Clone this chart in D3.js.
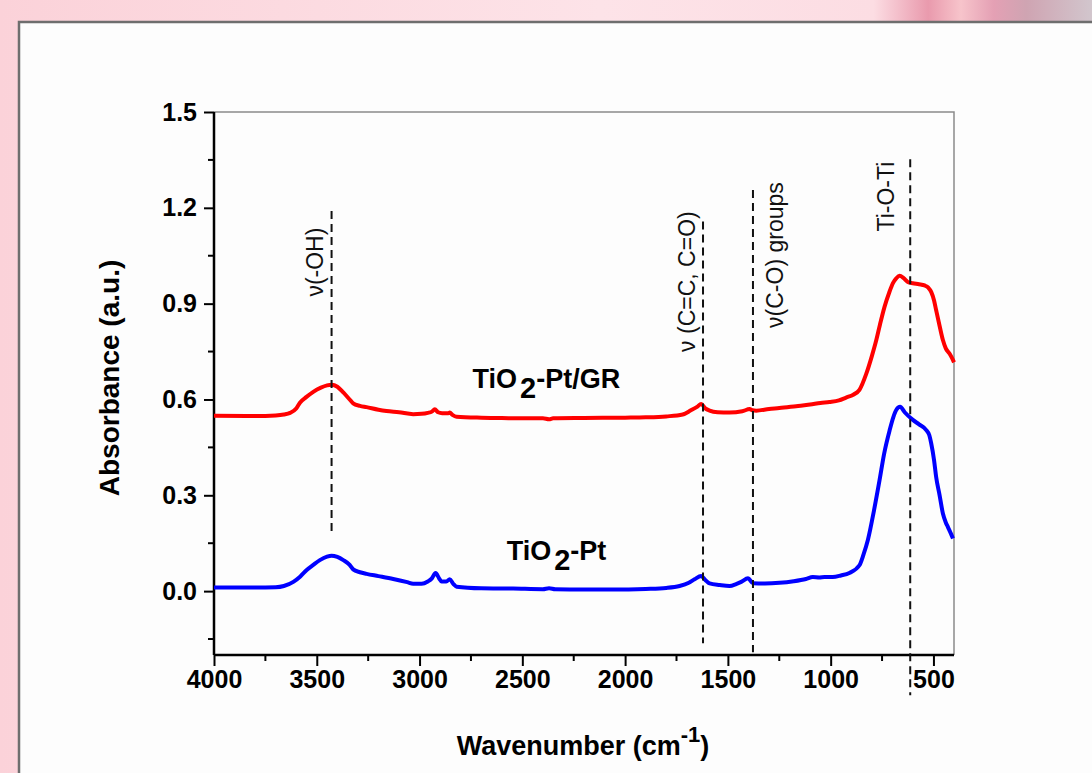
<!DOCTYPE html>
<html lang="en">
<head>
<meta charset="utf-8">
<title>FTIR spectra</title>
<style>
  body { margin: 0; overflow: hidden; }
  svg { display: block; font-family: "Liberation Sans", Arial, sans-serif; }
</style>
</head>
<body>
<div id="plot"></div>
<script src="https://d3js.org/d3.v7.min.js"></script>
<script>
// spectrum: wavenumber (cm-1) -> absorbance
var wnGR = [4000,3800,3700,3660,3630,3600,3582,3550,3517,3480,3450,3428,3400,3371,3340,3323,3290,3258,3200,3161,3100,3031,2990,2960,2940,2926,2910,2890,2860,2853,2840,2820,2700,2600,2500,2400,2370,2350,2200,2000,1900,1800,1720,1680,1650,1630,1610,1589,1550,1492,1430,1394,1380,1362,1300,1250,1168,1100,1050,1006,960,925,890,860,827,800,778,760,738,715,697,680,665,645,625,600,570,543,525,511,497,487,470,454,440,422,410,400];
var absGR = [0.549,0.548,0.550,0.553,0.558,0.572,0.590,0.608,0.624,0.637,0.644,0.646,0.640,0.622,0.600,0.588,0.580,0.576,0.568,0.564,0.560,0.554,0.555,0.558,0.562,0.569,0.560,0.557,0.557,0.559,0.552,0.546,0.543,0.542,0.541,0.541,0.538,0.541,0.542,0.543,0.544,0.547,0.553,0.566,0.577,0.586,0.572,0.565,0.560,0.559,0.563,0.570,0.566,0.565,0.570,0.573,0.579,0.584,0.589,0.592,0.597,0.606,0.615,0.630,0.680,0.735,0.786,0.835,0.890,0.935,0.964,0.980,0.987,0.980,0.968,0.964,0.961,0.957,0.950,0.937,0.910,0.880,0.830,0.786,0.760,0.744,0.730,0.716];

var wnPt = [4000,3800,3700,3660,3614,3580,3549,3517,3485,3450,3428,3400,3371,3340,3323,3290,3258,3200,3128,3060,3031,2990,2960,2940,2922,2905,2893,2870,2853,2835,2820,2700,2545,2400,2370,2340,2200,2059,1900,1800,1735,1690,1662,1630,1610,1589,1540,1492,1460,1435,1402,1378,1320,1249,1180,1120,1087,1055,1030,990,950,909,860,840,819,790,762,740,713,695,681,662,640,600,570,535,520,511,497,487,470,454,440,430,415,405];
var absPt = [0.011,0.011,0.012,0.016,0.029,0.046,0.066,0.082,0.097,0.108,0.111,0.107,0.097,0.082,0.068,0.059,0.054,0.047,0.038,0.028,0.023,0.023,0.030,0.040,0.057,0.040,0.030,0.030,0.037,0.022,0.014,0.009,0.008,0.006,0.009,0.006,0.005,0.005,0.007,0.010,0.016,0.026,0.037,0.047,0.035,0.024,0.019,0.016,0.022,0.029,0.040,0.025,0.024,0.026,0.031,0.038,0.044,0.043,0.044,0.044,0.049,0.057,0.081,0.115,0.160,0.250,0.348,0.430,0.504,0.545,0.567,0.577,0.560,0.536,0.522,0.504,0.488,0.463,0.410,0.358,0.300,0.243,0.215,0.201,0.180,0.165];

var xTicks = [4000,3500,3000,2500,2000,1500,1000,500];
var xMinor = [3750,3250,2750,2250,1750,1250,750];
var yTicks = [0.0,0.3,0.6,0.9,1.2,1.5];
var yMinor = [-0.15,0.15,0.45,0.75,1.05,1.35];

// band assignments: dashed line position, its ends, label anchor
var bandText = ["\u03bd(-OH)", "\u03bd (C=C, C=O)", "\u03bd(C-O) groups", "Ti-O-Ti"];
var bandWn   = [3428, 1621, 1378, 613];
var bandTop  = [1.19, 1.157, 1.256, 1.352];
var bandLow  = [0.175, -0.163, -0.191, -0.326];
var labelWn  = [3509, 1699, 1273, 733];
var labelAbs = [1.03, 0.969, 1.052, 1.235];

var sampleName = ["TiO", "TiO"];
var sampleRest = ["-Pt/GR", "-Pt"];
var sampleWn   = [2383, 2334];
var sampleAbs  = [0.636, 0.097];

var W = 1092, H = 773;
var svg = d3.select("#plot").append("svg").attr("width", W).attr("height", H);

// slide background
var defs = svg.append("defs");
var bg = defs.append("linearGradient").attr("id", "bg").attr("x1", 0).attr("x2", 1).attr("y1", 0).attr("y2", 0);
bg.append("stop").attr("offset", 0).attr("stop-color", "#fbd2d9");
bg.append("stop").attr("offset", 0.55).attr("stop-color", "#fde3e8");
bg.append("stop").attr("offset", 0.8).attr("stop-color", "#fcdde3");
bg.append("stop").attr("offset", 0.85).attr("stop-color", "#e99aad");
bg.append("stop").attr("offset", 0.88).attr("stop-color", "#f7c4cb");
bg.append("stop").attr("offset", 0.91).attr("stop-color", "#e4a0b4");
bg.append("stop").attr("offset", 0.94).attr("stop-color", "#cfa4b2");
bg.append("stop").attr("offset", 1).attr("stop-color", "#d2c6cd");
svg.append("rect").attr("width", W).attr("height", H).attr("fill", "url(#bg)");
svg.append("rect").attr("x", 19).attr("y", 22).attr("width", W).attr("height", H)
   .attr("fill", "#fdfdfd").attr("stroke", "#6e6e6e").attr("stroke-width", 2.5);

var pLeft = 214, pRight = 954, pTop = 112, pBottom = 655;
var x = d3.scaleLinear().domain([4000, 400]).range([pLeft, pRight]);
var y = d3.scaleLinear().domain([-0.2, 1.5]).range([pBottom, pTop]);

// frame top/right
svg.append("path").attr("d", "M" + pLeft + "," + pTop + "H" + pRight + "V" + pBottom)
   .attr("fill", "none").attr("stroke", "#8a8a8a").attr("stroke-width", 1.5);

var tickFont = "bold 25px 'Liberation Sans', Arial, sans-serif";

var xAxis = svg.append("g").attr("transform", "translate(0," + pBottom + ")")
  .call(d3.axisBottom(x).tickValues(xTicks).tickSize(11).tickPadding(4).tickFormat(d3.format("d")));
xAxis.append("g").selectAll("line").data(xMinor).join("line")
  .attr("x1", function(d) { return x(d); }).attr("x2", function(d) { return x(d); })
  .attr("y1", 0).attr("y2", 6).attr("stroke", "#000").attr("stroke-width", 2);

var yAxis = svg.append("g").attr("transform", "translate(" + pLeft + ",0)")
  .call(d3.axisLeft(y).tickValues(yTicks).tickSize(10).tickPadding(7).tickFormat(d3.format(".1f")));
yAxis.append("g").selectAll("line").data(yMinor).join("line")
  .attr("y1", function(d) { return y(d); }).attr("y2", function(d) { return y(d); })
  .attr("x1", 0).attr("x2", -6).attr("stroke", "#000").attr("stroke-width", 2);

[xAxis, yAxis].forEach(function(a) {
  a.select(".domain").attr("stroke", "#000").attr("stroke-width", 2.5);
  a.selectAll(".tick line").attr("stroke", "#000").attr("stroke-width", 2);
  a.selectAll(".tick text").attr("fill", "#000").style("font", tickFont);
});
yAxis.select(".domain").attr("d", "M0," + pTop + "V" + pBottom);
xAxis.select(".domain").attr("d", "M" + pLeft + ",0H" + pRight);

// spectra
var line = d3.line().x(function(d) { return x(d[0]); }).y(function(d) { return y(d[1]); }).curve(d3.curveMonotoneX);
svg.append("path").datum(d3.zip(wnGR, absGR)).attr("d", line)
   .attr("fill", "none").attr("stroke", "#ff0000").attr("stroke-width", 4).attr("stroke-linejoin", "round");
svg.append("path").datum(d3.zip(wnPt, absPt)).attr("d", line)
   .attr("fill", "none").attr("stroke", "#0000ff").attr("stroke-width", 4).attr("stroke-linejoin", "round");

// band markers
bandWn.forEach(function(w, i) {
  svg.append("line")
     .attr("x1", x(w)).attr("x2", x(w)).attr("y1", y(bandTop[i])).attr("y2", y(bandLow[i]))
     .attr("stroke", "#111").attr("stroke-width", 2).attr("stroke-dasharray", "8,5");
  svg.append("text")
     .attr("transform", "translate(" + x(labelWn[i]) + "," + y(labelAbs[i]) + ") rotate(-90)")
     .attr("text-anchor", "middle").attr("dy", "0.35em")
     .style("font", "23px 'Liberation Sans', Arial, sans-serif").attr("fill", "#111")
     .text(bandText[i]);
});

// sample names
sampleName.forEach(function(s, i) {
  var t = svg.append("text").attr("x", x(sampleWn[i])).attr("y", y(sampleAbs[i]))
     .attr("text-anchor", "middle").style("font", "bold 27px 'Liberation Sans', Arial, sans-serif").attr("fill", "#000");
  t.append("tspan").text(s);
  t.append("tspan").attr("dy", 10).attr("dx", 3).style("font-size", "29px").text("2");
  t.append("tspan").attr("dy", -10).text(sampleRest[i]);
});

// axis titles
var xt = svg.append("text").attr("x", 583).attr("y", 755).attr("text-anchor", "middle")
   .style("font", "bold 27px 'Liberation Sans', Arial, sans-serif").attr("fill", "#000");
xt.append("tspan").text("Wavenumber (cm");
xt.append("tspan").attr("dy", -13).style("font-size", "22px").text("-1");
xt.append("tspan").attr("dy", 13).text(")");

svg.append("text").attr("transform", "translate(119,378) rotate(-90)").attr("text-anchor", "middle")
   .style("font", "bold 28px 'Liberation Sans', Arial, sans-serif").attr("fill", "#000")
   .text("Absorbance (a.u.)");
</script>
</body>
</html>
